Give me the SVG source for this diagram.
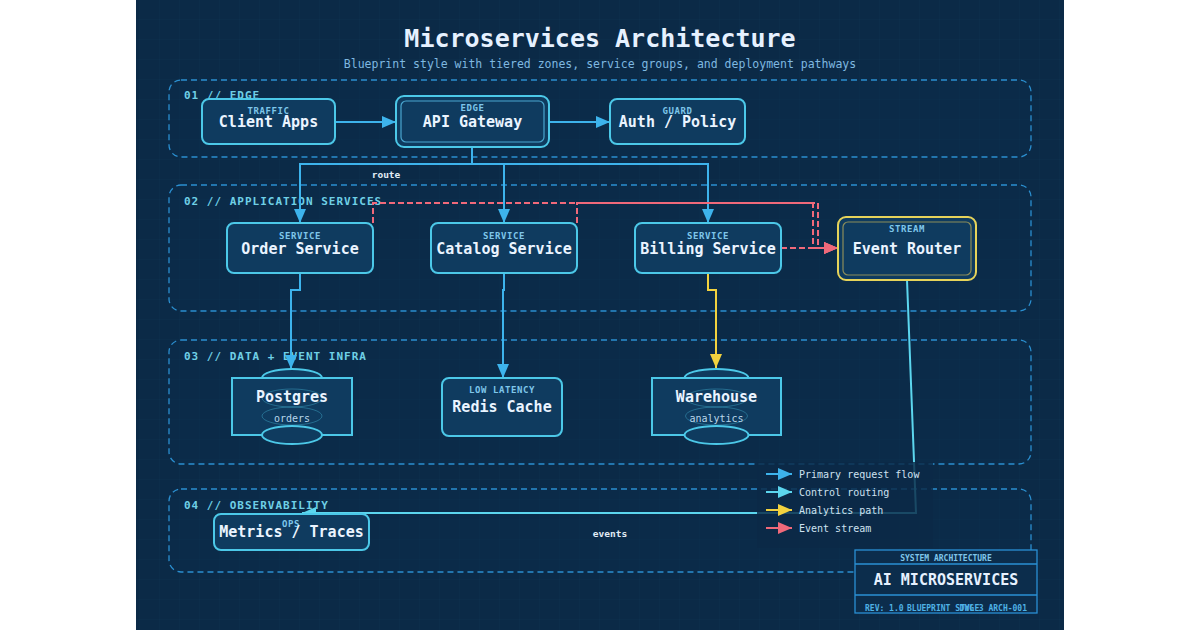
<svg xmlns="http://www.w3.org/2000/svg" width="1200" height="630" viewBox="0 0 1200 630">
<defs>
<style>
.mono{font-family:"DejaVu Sans Mono","Liberation Mono",monospace}
.zone{fill:#0c2e4d;fill-opacity:0.35;stroke:#2b8fd0;stroke-width:1.3;stroke-dasharray:6 4}
.zl{font-family:"DejaVu Sans Mono",monospace;font-size:11px;font-weight:bold;letter-spacing:1px;fill:#6fd0e6}
.box{fill:#0f3b5f;stroke:#4cc8e8;stroke-width:2}
.main{font-family:"DejaVu Sans Mono",monospace;font-size:15px;font-weight:bold;fill:#eaf4ff;text-anchor:middle}
.tag{font-family:"DejaVu Sans Mono",monospace;font-size:9px;font-weight:bold;letter-spacing:0.6px;fill:#7ec6ea;text-anchor:middle}
.sub{font-family:"DejaVu Sans Mono",monospace;font-size:10px;fill:#b9d6ea;text-anchor:middle}
.faint{fill:none;stroke:#4cc8e8;stroke-opacity:0.35;stroke-width:1}
.pri{fill:none;stroke:#3db3ec;stroke-width:2}
.ctl{fill:none;stroke:#5cd6ee;stroke-width:2}
.ana{fill:none;stroke:#f2d23f;stroke-width:2}
.evt{fill:none;stroke:#f0697a;stroke-width:2;stroke-dasharray:6 3}
.lbl{font-family:"DejaVu Sans Mono",monospace;font-size:9.5px;font-weight:bold;fill:#e2ecf5;text-anchor:middle}
.leg{font-family:"DejaVu Sans Mono",monospace;font-size:10px;fill:#cfe2f0}
</style>
<pattern id="grid" width="20" height="20" patternUnits="userSpaceOnUse">
<path d="M20,0 V20 M0,20 H20" fill="none" stroke="#123a5c" stroke-width="0.6" stroke-opacity="0.5"/>
</pattern>
<marker id="aPri" markerUnits="userSpaceOnUse" markerWidth="14" markerHeight="12" refX="14" refY="6" orient="auto"><path d="M0,0 L14,6 L0,12 z" fill="#3db3ec"/></marker>
<marker id="aCtl" markerUnits="userSpaceOnUse" markerWidth="14" markerHeight="12" refX="14" refY="6" orient="auto"><path d="M0,0 L14,6 L0,12 z" fill="#5cd6ee"/></marker>
<marker id="aAna" markerUnits="userSpaceOnUse" markerWidth="14" markerHeight="12" refX="14" refY="6" orient="auto"><path d="M0,0 L14,6 L0,12 z" fill="#f2d23f"/></marker>
<marker id="aEvt" markerUnits="userSpaceOnUse" markerWidth="14" markerHeight="12" refX="14" refY="6" orient="auto"><path d="M0,0 L14,6 L0,12 z" fill="#f0697a"/></marker>
</defs>

<rect x="0" y="0" width="1200" height="630" fill="#ffffff"/>
<rect x="136" y="0" width="928" height="630" fill="#0b2a47"/>
<rect x="136" y="0" width="928" height="630" fill="url(#grid)"/>

<text x="600" y="47" class="mono" font-size="25" font-weight="bold" fill="#e6f1ff" text-anchor="middle">Microservices Architecture</text>
<text x="600" y="68" class="mono" font-size="11.5" fill="#7fb8e0" text-anchor="middle">Blueprint style with tiered zones, service groups, and deployment pathways</text>

<g id="zones">
<rect class="zone" x="169" y="80" width="862" height="77" rx="12"/>
<text class="zl" x="184" y="99">01 // EDGE</text>
<rect class="zone" x="169" y="185" width="862" height="126" rx="12"/>
<text class="zl" x="184" y="205">02 // APPLICATION SERVICES</text>
<rect class="zone" x="169" y="340" width="862" height="124" rx="12"/>
<text class="zl" x="184" y="360">03 // DATA + EVENT INFRA</text>
<rect class="zone" x="169" y="489" width="862" height="83" rx="12"/>
<text class="zl" x="184" y="509">04 // OBSERVABILITY</text>
</g>

<g id="connectors">
<path class="pri" d="M335,122 H396" marker-end="url(#aPri)"/>
<path class="pri" d="M549,122 H610" marker-end="url(#aPri)"/>
<path class="pri" d="M472,147 V164 H300 V223" marker-end="url(#aPri)"/>
<path class="pri" d="M472,164 H504 V223" marker-end="url(#aPri)"/>
<path class="pri" d="M504,164 H708 V223" marker-end="url(#aPri)"/>
<text class="lbl" x="386" y="178">route</text>
<path class="pri" d="M300,273 V290 H291 V369" marker-end="url(#aPri)"/>
<path class="pri" d="M504,273 V290 H503 V378" marker-end="url(#aPri)"/>
<path class="ana" d="M708,273 V290 H716 V368" marker-end="url(#aAna)"/>
<path class="evt" d="M373,223 V203 H813 V248 H838" marker-end="url(#aEvt)"/>
<path class="evt" d="M577,223 V203 H818 V248 H838" marker-end="url(#aEvt)"/>
<path class="evt" d="M781,248 H838" marker-end="url(#aEvt)"/>
<path class="ctl" d="M907,280 L916,513 H302" marker-end="url(#aCtl)"/>
<text class="lbl" x="610" y="537">events</text>
</g>

<g id="client-apps">
<rect class="box" x="202" y="99" width="133" height="45" rx="7"/>
<text class="tag" x="268.5" y="114">TRAFFIC</text>
<text class="main" x="268.5" y="127">Client Apps</text>
</g>
<g id="api-gateway">
<rect class="box" x="396" y="96" width="153" height="51" rx="8" stroke="#5ad0ee"/>
<rect x="401" y="101" width="143" height="41" rx="5" fill="none" stroke="#4aa6cf" stroke-width="1.2"/>
<text class="tag" x="472.5" y="111">EDGE</text>
<text class="main" x="472.5" y="127">API Gateway</text>
</g>
<g id="auth-policy">
<rect class="box" x="610" y="99" width="135" height="45" rx="7"/>
<text class="tag" x="677.5" y="114">GUARD</text>
<text class="main" x="677.5" y="127">Auth / Policy</text>
</g>

<g id="order-service">
<rect class="box" x="227" y="223" width="146" height="50" rx="7"/>
<text class="tag" x="300" y="239">SERVICE</text>
<text class="main" x="300" y="254">Order Service</text>
</g>
<g id="catalog-service">
<rect class="box" x="431" y="223" width="146" height="50" rx="7"/>
<text class="tag" x="504" y="239">SERVICE</text>
<text class="main" x="504" y="254">Catalog Service</text>
</g>
<g id="billing-service">
<rect class="box" x="635" y="223" width="146" height="50" rx="7"/>
<text class="tag" x="708" y="239">SERVICE</text>
<text class="main" x="708" y="254">Billing Service</text>
</g>
<g id="event-router">
<rect x="838" y="217" width="138" height="63" rx="8" fill="#0f3b5f" stroke="#e6d35a" stroke-width="2"/>
<rect x="843" y="222" width="128" height="53" rx="5" fill="none" stroke="#8c8d5a" stroke-width="1.2"/>
<text class="tag" x="907" y="232">STREAM</text>
<text class="main" x="907" y="254">Event Router</text>
</g>

<g id="postgres">
<ellipse cx="292" cy="378" rx="30" ry="9" fill="#0f3b5f" stroke="#4cc8e8" stroke-width="2"/>
<rect class="box" x="232" y="378" width="120" height="57"/>
<ellipse class="faint" cx="292" cy="398" rx="30" ry="9"/>
<ellipse class="faint" cx="292" cy="416" rx="30" ry="9"/>
<ellipse cx="292" cy="435" rx="30" ry="9" fill="#0f3b5f" stroke="#4cc8e8" stroke-width="2"/>
<text class="main" x="292" y="402">Postgres</text>
<text class="sub" x="292" y="422">orders</text>
</g>
<g id="redis-cache">
<rect class="box" x="442" y="378" width="120" height="58" rx="7"/>
<text class="tag" x="502" y="393">LOW LATENCY</text>
<text class="main" x="502" y="412">Redis Cache</text>
</g>
<g id="warehouse">
<ellipse cx="716.5" cy="378" rx="32" ry="9" fill="#0f3b5f" stroke="#4cc8e8" stroke-width="2"/>
<rect class="box" x="652" y="378" width="129" height="57"/>
<ellipse class="faint" cx="716.5" cy="398" rx="31" ry="9"/>
<ellipse class="faint" cx="716.5" cy="416" rx="31" ry="9"/>
<ellipse cx="716.5" cy="435" rx="32" ry="9" fill="#0f3b5f" stroke="#4cc8e8" stroke-width="2"/>
<text class="main" x="716.5" y="402">Warehouse</text>
<text class="sub" x="716.5" y="422">analytics</text>
</g>

<g id="metrics-traces">
<rect class="box" x="214" y="514" width="155" height="36" rx="7"/>
<text class="tag" x="291" y="527">OPS</text>
<text class="main" x="291.5" y="537">Metrics / Traces</text>
</g>

<g id="legend">
<rect x="757" y="462" width="176" height="86" fill="#0b2a47" fill-opacity="0.82"/>
<path d="M766,474 H792" stroke="#3db3ec" stroke-width="2" marker-end="url(#aPri)"/>
<text class="leg" x="799" y="477.5">Primary request flow</text>
<path d="M766,492 H792" stroke="#5cd6ee" stroke-width="2" marker-end="url(#aCtl)"/>
<text class="leg" x="799" y="495.5">Control routing</text>
<path d="M766,510 H792" stroke="#f2d23f" stroke-width="2" marker-end="url(#aAna)"/>
<text class="leg" x="799" y="513.5">Analytics path</text>
<path d="M766,528 H792" stroke="#f0697a" stroke-width="2" marker-end="url(#aEvt)"/>
<text class="leg" x="799" y="531.5">Event stream</text>
</g>

<g id="title-block">
<rect x="855" y="550" width="182" height="63" fill="#0c2d4c" stroke="#2a90d4" stroke-width="1.3"/>
<line x1="855" y1="564" x2="1037" y2="564" stroke="#2a90d4" stroke-width="1.3"/>
<line x1="855" y1="595" x2="1037" y2="595" stroke="#2a90d4" stroke-width="1.3"/>
<text x="946" y="561" class="mono" font-size="8" font-weight="bold" fill="#7fc6ea" text-anchor="middle">SYSTEM ARCHITECTURE</text>
<text x="946" y="585" class="mono" font-size="15" font-weight="bold" fill="#e6f1ff" text-anchor="middle">AI MICROSERVICES</text>
<text x="865" y="611" class="mono" font-size="8" font-weight="bold" fill="#4fb2e6">REV: 1.0</text>
<text x="907" y="611" class="mono" font-size="8" font-weight="bold" fill="#4fb2e6">BLUEPRINT STYLE</text>
<text x="1027" y="611" class="mono" font-size="8" font-weight="bold" fill="#4fb2e6" text-anchor="end">DWG 3 ARCH-001</text>
</g>
</svg>
